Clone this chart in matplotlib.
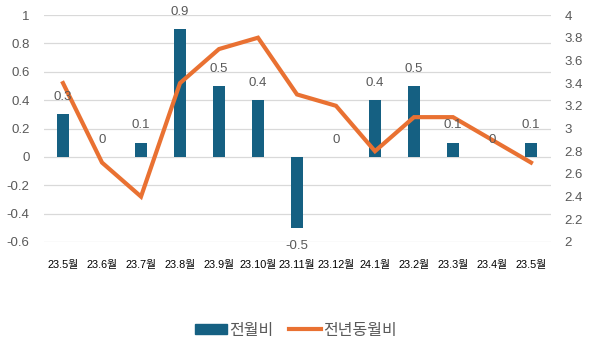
import matplotlib
matplotlib.use("Agg")
import matplotlib.pyplot as plt
from matplotlib.patches import Patch
from matplotlib.lines import Line2D
import numpy as np

plt.rcParams['font.family'] = ['Liberation Sans', 'Noto Sans CJK KR', 'DejaVu Sans']

months = ["23.5월", "23.6월", "23.7월", "23.8월", "23.9월", "23.10월", "23.11월",
          "23.12월", "24.1월", "23.2월", "23.3월", "23.4월", "23.5월"]
mom = [0.3, 0, 0.1, 0.9, 0.5, 0.4, -0.5, 0, 0.4, 0.5, 0.1, 0, 0.1]      # 전월비
yoy = [3.4, 2.7, 2.4, 3.4, 3.7, 3.8, 3.3, 3.2, 2.8, 3.1, 3.1, 2.9, 2.7]  # 전년동월비

bar_color = "#156082"
line_color = "#E97132"
text_color = "#595959"
grid_color = "#D9D9D9"

fig = plt.figure(figsize=(5.92, 3.52), dpi=100)
ax = fig.add_axes([43.5 / 592, 1 - 242 / 352, (550.5 - 43.5) / 592, (242 - 15) / 352])
ax2 = ax.twinx()

x = np.arange(len(months))
ax.bar(x, mom, width=0.33, color=bar_color, zorder=2)
ax2.plot(x, yoy, color=line_color, lw=3, solid_joinstyle="miter", zorder=3)

ax.set_xlim(-0.5, len(months) - 0.5)
ax.set_ylim(-0.6, 1.0)
ax2.set_ylim(2.0, 4.0)
left_ticks = np.round(np.arange(-0.6, 1.01, 0.2), 1)
right_ticks = np.round(np.arange(2.0, 4.01, 0.2), 1)
ax.set_yticks(left_ticks)
ax.set_yticklabels([f"{v:g}" for v in left_ticks])
ax2.set_yticks(right_ticks)
ax2.set_yticklabels([f"{v:g}" for v in right_ticks])
ax.grid(axis="y", color=grid_color, lw=0.9, zorder=0)
ax.set_axisbelow(True)

for a in (ax, ax2):
    for s in a.spines.values():
        s.set_visible(False)
    a.tick_params(length=0, labelsize=9.5, colors=text_color)

ax.set_xticks(x)
ax.set_xticklabels(months, fontsize=7.8, color="#000000")
ax.tick_params(axis="x", pad=13)
ax.tick_params(axis="y", pad=10)
ax2.tick_params(axis="y", pad=10)

# data labels sit on top of the line, like Excel
for xi, v in zip(x, mom):
    off = -13 if v < 0 else 12.5
    ax2.annotate(f"{v:g}", (xi, v), xycoords=ax.transData, xytext=(0, off),
                 textcoords="offset points", ha="center", va="center",
                 fontsize=9.5, color=text_color, zorder=5)

handles = [Patch(color=bar_color), Line2D([0], [0], color=line_color, lw=3)]
fig.legend(handles, ["전월비", "전년동월비"], loc="center", bbox_to_anchor=(0.5, 1 - 330 / 352),
           ncol=2, frameon=False, fontsize=11.5, handlelength=2.0, handleheight=0.6,
           handletextpad=0.15, columnspacing=1.0, labelcolor=text_color)

fig.savefig("out.png", dpi=100)
